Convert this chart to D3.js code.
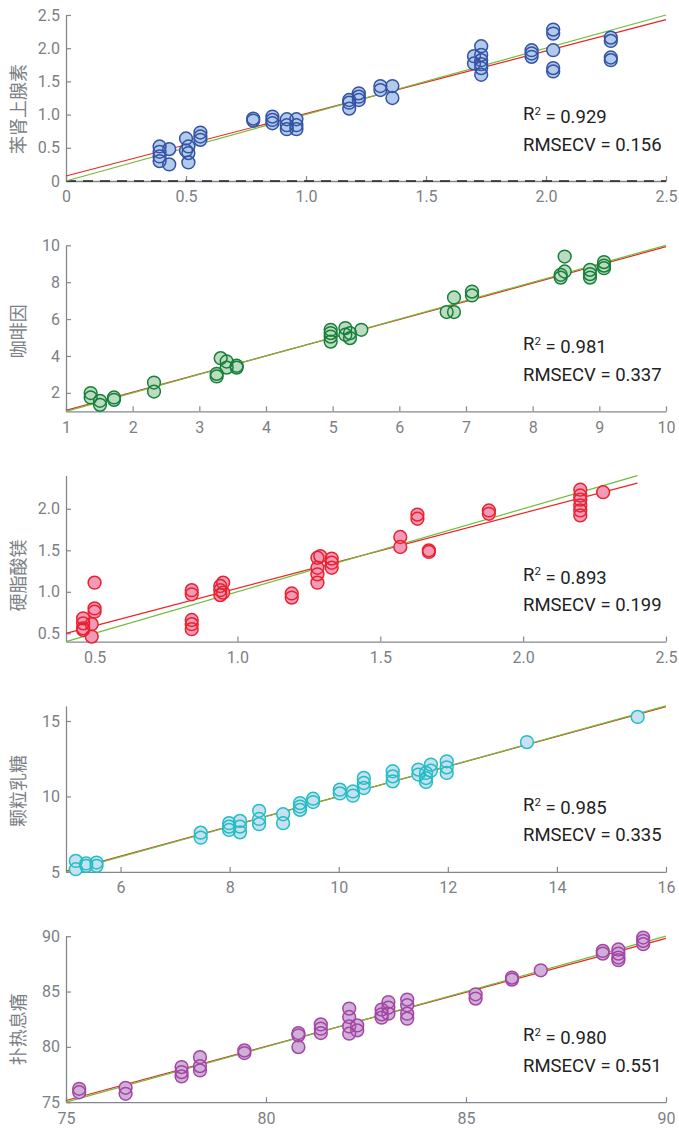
<!DOCTYPE html>
<html>
<head>
<meta charset="utf-8">
<script src="https://cdn.jsdelivr.net/npm/d3@7"></script>
<style>
  html, body { margin: 0; padding: 0; background: #fff; }
  svg { display: block; }
</style>
</head>
<body>
<svg id="chart" width="679" height="1128"></svg>
<script>
// ---------------- DATA ----------------
const labels = ["苯肾上腺素", "咖啡因", "硬脂酸镁", "颗粒乳糖", "扑热息痛"];
const r2Values = ["0.929", "0.981", "0.893", "0.985", "0.980"];
const rmsecvValues = ["0.156", "0.337", "0.199", "0.335", "0.551"];

const xDomains = [[0, 2.5], [1, 10], [0.4, 2.5], [5, 16], [75, 90]];
const yDomains = [[0, 2.5], [1, 10], [0.4, 2.4], [5, 16], [75, 90]];

const xTickValues = [
  [0, 0.5, 1.0, 1.5, 2.0, 2.5],
  [1, 2, 3, 4, 5, 6, 7, 8, 9, 10],
  [0.5, 1.0, 1.5, 2.0, 2.5],
  [6, 8, 10, 12, 14, 16],
  [75, 80, 85, 90]
];
const xTickLabels = [
  ["0", "0.5", "1.0", "1.5", "2.0", "2.5"],
  ["1", "2", "3", "4", "5", "6", "7", "8", "9", "10"],
  ["0.5", "1.0", "1.5", "2.0", "2.5"],
  ["6", "8", "10", "12", "14", "16"],
  ["75", "80", "85", "90"]
];
const yTickValues = [
  [0, 0.5, 1.0, 1.5, 2.0, 2.5],
  [2, 4, 6, 8, 10],
  [0.5, 1.0, 1.5, 2.0],
  [5, 10, 15],
  [75, 80, 85, 90]
];
const yTickLabels = [
  ["0", "0.5", "1.0", "1.5", "2.0", "2.5"],
  ["2", "4", "6", "8", "10"],
  ["0.5", "1.0", "1.5", "2.0"],
  ["5", "10", "15"],
  ["75", "80", "85", "90"]
];

// fitted (red) regression lines: y = intercept + slope * x, over lineRange
const fitSlope = [0.942, 0.986, 0.905, 0.991, 0.977];
const fitIntercept = [0.075, 0.064, 0.138, 0.095, 1.88];
const lineRanges = [[0, 2.5], [1, 10], [0.4, 2.4], [5, 16], [75, 90]];

// measured (x) vs predicted (y) points, [x, y]
const pointsPhenylephrine = [
  [0.39, 0.52], [0.39, 0.44], [0.39, 0.37], [0.39, 0.30],
  [0.43, 0.48], [0.43, 0.25],
  [0.50, 0.64], [0.50, 0.46],
  [0.51, 0.52], [0.51, 0.42], [0.51, 0.28],
  [0.56, 0.73], [0.56, 0.67], [0.56, 0.62],
  [0.78, 0.94], [0.78, 0.91],
  [0.86, 0.97], [0.86, 0.92], [0.86, 0.87],
  [0.92, 0.93], [0.92, 0.84], [0.92, 0.78],
  [0.96, 0.93], [0.96, 0.84], [0.96, 0.78],
  [1.18, 1.22], [1.18, 1.18], [1.18, 1.09],
  [1.22, 1.32], [1.22, 1.27], [1.22, 1.22],
  [1.31, 1.43], [1.31, 1.37],
  [1.36, 1.43], [1.36, 1.25],
  [1.70, 1.88], [1.70, 1.77],
  [1.73, 2.03], [1.73, 1.90], [1.73, 1.82], [1.73, 1.76], [1.73, 1.70], [1.73, 1.60],
  [1.94, 1.97], [1.94, 1.92], [1.94, 1.87],
  [2.03, 2.28], [2.03, 2.22], [2.03, 1.97], [2.03, 1.70], [2.03, 1.65],
  [2.27, 2.16], [2.27, 2.11], [2.27, 1.86], [2.27, 1.82]
];
const pointsCaffeine = [
  [1.37, 1.99], [1.37, 1.75],
  [1.51, 1.57], [1.51, 1.35],
  [1.72, 1.75], [1.72, 1.62],
  [2.32, 2.56], [2.32, 2.07],
  [3.26, 3.03], [3.26, 2.89],
  [3.32, 3.88],
  [3.41, 3.70], [3.41, 3.37],
  [3.56, 3.47], [3.56, 3.37],
  [4.97, 5.42], [4.97, 5.24], [4.97, 5.05], [4.97, 4.78],
  [5.19, 5.51], [5.19, 5.15],
  [5.26, 5.24], [5.26, 4.97],
  [5.43, 5.42],
  [6.71, 6.38],
  [6.82, 7.17], [6.82, 6.38],
  [7.09, 7.49], [7.09, 7.28],
  [8.42, 8.40], [8.42, 8.25],
  [8.48, 9.39], [8.48, 8.58],
  [8.86, 8.67], [8.86, 8.44], [8.86, 8.25],
  [9.07, 9.09], [9.07, 8.90], [9.07, 8.76]
];
const pointsMgStearate = [
  [0.46, 0.68], [0.46, 0.62], [0.46, 0.56], [0.46, 0.54],
  [0.49, 0.61], [0.49, 0.46],
  [0.50, 1.11], [0.50, 0.80], [0.50, 0.76],
  [0.84, 1.02], [0.84, 0.97], [0.84, 0.66], [0.84, 0.61], [0.84, 0.55],
  [0.94, 1.07], [0.94, 1.02], [0.94, 0.96],
  [0.95, 1.11], [0.95, 0.99],
  [1.19, 0.98], [1.19, 0.93],
  [1.28, 1.41], [1.28, 1.29], [1.28, 1.21], [1.28, 1.11],
  [1.29, 1.43],
  [1.33, 1.40], [1.33, 1.35], [1.33, 1.29],
  [1.57, 1.66], [1.57, 1.54],
  [1.63, 1.93], [1.63, 1.88],
  [1.67, 1.50], [1.67, 1.48],
  [1.88, 1.98], [1.88, 1.94],
  [2.20, 2.23], [2.20, 2.16], [2.20, 2.11], [2.20, 2.04], [2.20, 1.98], [2.20, 1.92],
  [2.28, 2.20]
];
const pointsLactose = [
  [5.18, 5.73], [5.18, 5.18],
  [5.37, 5.56], [5.37, 5.40],
  [5.56, 5.62], [5.56, 5.40],
  [7.47, 7.60], [7.47, 7.27],
  [7.99, 8.23], [7.99, 8.00], [7.99, 7.78],
  [8.19, 8.38], [8.19, 8.00], [8.19, 7.62],
  [8.54, 9.05], [8.54, 8.51], [8.54, 8.16],
  [8.98, 8.82], [8.98, 8.23],
  [9.29, 9.56], [9.29, 9.33], [9.29, 9.11],
  [9.53, 9.85], [9.53, 9.63],
  [10.02, 10.45], [10.02, 10.20],
  [10.26, 10.33], [10.26, 10.05],
  [10.46, 11.23], [10.46, 10.89], [10.46, 10.56],
  [10.99, 11.67], [10.99, 11.33], [10.99, 11.00],
  [11.46, 11.78], [11.46, 11.45],
  [11.60, 11.56], [11.60, 11.22], [11.60, 10.96],
  [11.69, 12.11], [11.69, 11.71],
  [11.98, 12.33], [11.98, 11.93], [11.98, 11.56],
  [13.45, 13.60],
  [15.48, 15.27]
];
const pointsParacetamol = [
  [75.33, 76.21], [75.33, 75.90],
  [76.49, 76.30], [76.49, 75.76],
  [77.89, 78.17], [77.89, 77.72], [77.89, 77.33],
  [78.35, 79.07], [78.35, 78.26], [78.35, 77.87],
  [79.46, 79.68], [79.46, 79.44],
  [80.81, 81.25], [80.81, 81.04], [80.81, 79.98],
  [81.37, 82.03], [81.37, 81.64], [81.37, 81.25],
  [82.08, 83.46], [82.08, 82.70], [82.08, 81.85], [82.08, 81.19],
  [82.28, 81.94], [82.28, 81.49],
  [82.89, 83.37], [82.89, 82.94], [82.89, 82.64],
  [83.06, 84.05], [83.06, 83.55], [83.06, 83.00],
  [83.53, 84.27], [83.53, 83.76], [83.53, 83.00], [83.53, 82.55],
  [85.24, 84.75], [85.24, 84.36],
  [86.15, 86.26], [86.15, 86.08],
  [86.87, 86.92],
  [88.42, 88.67], [88.42, 88.43],
  [88.81, 88.80], [88.81, 88.43], [88.81, 88.07], [88.81, 87.83],
  [89.43, 89.88], [89.43, 89.58], [89.43, 89.28]
];
const allPoints = [pointsPhenylephrine, pointsCaffeine, pointsMgStearate, pointsLactose, pointsParacetamol];

// ---------------- STYLE / LAYOUT ----------------
const fills = ["#b3cbea", "#bcdcc0", "#f49ab9", "#c9e0f2", "#cfb0d8"];
const strokes = ["#3453a6", "#16803a", "#e8232d", "#22bfc2", "#a445a6"];
const axisColor = "#84878d";
const textColor = "#7c7f86";
const labelOffsets = [11, 3, 17, 2, 10];

const left = 66, right = 666;
const panelTop0 = 15, panelStep = 230.3, panelH = 166;

const svg = d3.select("#chart");
const font = "Roboto, 'Noto Sans', sans-serif";

labels.forEach((lab, i) => {
  const top = panelTop0 + i * panelStep;
  const bottom = top + panelH;
  const x = d3.scaleLinear().domain(xDomains[i]).range([left, right]);
  const y = d3.scaleLinear().domain(yDomains[i]).range([bottom, top]);
  const g = svg.append("g");

  // axes
  const xAxis = d3.axisBottom(x).tickValues(xTickValues[i])
    .tickFormat((d, k) => xTickLabels[i][k]).tickSizeInner(-5).tickSizeOuter(0).tickPadding(10);
  const gx = g.append("g").attr("transform", `translate(0,${bottom})`).call(xAxis);
  const yAxis = d3.axisLeft(y).tickValues(yTickValues[i])
    .tickFormat((d, k) => yTickLabels[i][k]).tickSizeInner(-5).tickSizeOuter(0).tickPadding(6);
  const gy = g.append("g").attr("transform", `translate(${left},0)`).call(yAxis);
  [gx, gy].forEach(a => {
    a.select(".domain").attr("stroke", axisColor).attr("stroke-width", 1.3);
    a.selectAll(".tick line").attr("stroke", axisColor).attr("stroke-width", 1.2);
    a.selectAll(".tick text").attr("fill", textColor).style("font-family", font).style("font-size", "16px");
  });
  gx.selectAll(".tick text").attr("dy", "0.71em");

  // zero reference dashed line (first panel)
  if (yDomains[i][0] <= 0 && yDomains[i][1] >= 0) {
    g.append("line")
      .attr("x1", x(xDomains[i][0])).attr("x2", x(xDomains[i][1]))
      .attr("y1", y(0)).attr("y2", y(0))
      .attr("stroke", "#222").attr("stroke-width", 1.6)
      .attr("stroke-dasharray", "10,7");
  }

  // fit lines
  const lr = lineRanges[i];
  g.append("line")
    .attr("x1", x(lr[0])).attr("x2", x(lr[1]))
    .attr("y1", y(fitIntercept[i] + fitSlope[i] * lr[0]))
    .attr("y2", y(fitIntercept[i] + fitSlope[i] * lr[1]))
    .attr("stroke", "#ee2222").attr("stroke-width", 1.2);
  g.append("line")
    .attr("x1", x(lr[0])).attr("x2", x(lr[1]))
    .attr("y1", y(lr[0])).attr("y2", y(lr[1]))
    .attr("stroke", "#6cbf3c").attr("stroke-width", 1.2);

  // points: fills then outlines
  const pts = allPoints[i];
  g.append("g").selectAll("circle").data(pts).join("circle")
    .attr("cx", d => x(d[0])).attr("cy", d => y(d[1])).attr("r", 6.4)
    .attr("fill", fills[i]).attr("stroke", "none");
  g.append("g").selectAll("circle").data(pts).join("circle")
    .attr("cx", d => x(d[0])).attr("cy", d => y(d[1])).attr("r", 6.4)
    .attr("fill", "none").attr("stroke", strokes[i]).attr("stroke-width", 1.5);

  // annotations
  const t1 = g.append("text").attr("x", 523).attr("y", bottom - 61)
    .attr("fill", "#222").style("font-family", font).style("font-size", "18.5px");
  t1.append("tspan").text("R");
  t1.append("tspan").text("2").attr("dy", "-0.45em").style("font-size", "11.5px");
  t1.append("tspan").text(" = " + r2Values[i]).attr("dy", "0.45em");
  g.append("text").attr("x", 523).attr("y", bottom - 30.5)
    .attr("fill", "#222").style("font-family", font).style("font-size", "18.5px")
    .text("RMSECV = " + rmsecvValues[i]);

  // y label
  const cy = (top + bottom) / 2 + labelOffsets[i];
  g.append("text")
    .attr("transform", `translate(17,${cy}) rotate(-90)`)
    .attr("text-anchor", "middle").attr("dominant-baseline", "central")
    .attr("fill", textColor)
    .style("font-family", "'Noto Sans CJK SC', sans-serif").style("font-size", "18px")
    .text(lab);
});
</script>
</body>
</html>
